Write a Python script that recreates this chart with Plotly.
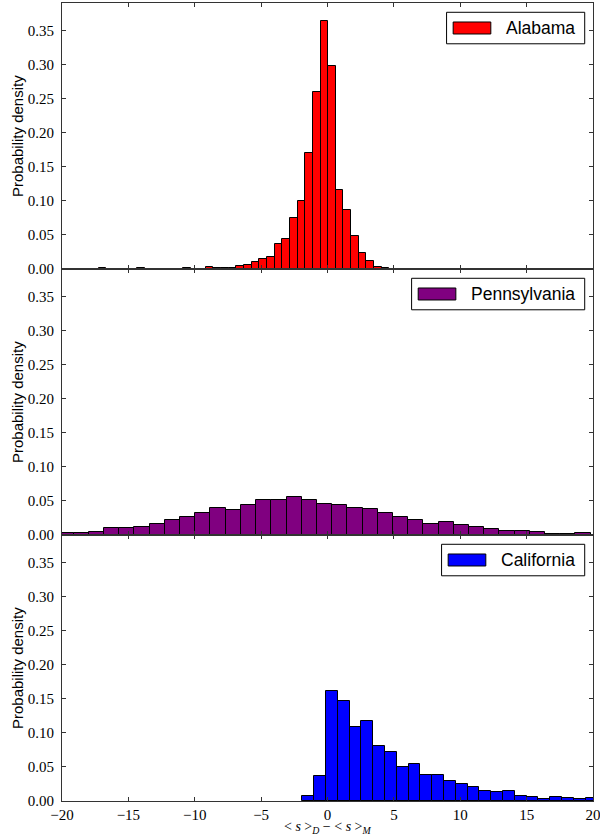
import plotly.graph_objects as go
from plotly.subplots import make_subplots

# ---------------- data ----------------
states = ["Alabama", "Pennsylvania", "California"]
colors = ["#ff0000", "#800080", "#0000ff"]

alabama_bin_start = -17.23
alabama_bin_width = 0.576
alabama_density = [
    0.001, 0, 0, 0, 0, 0.001, 0, 0, 0, 0, 0, 0.001, 0, 0,
    0.003, 0.002, 0.002, 0.002, 0.0044, 0.006, 0.0103, 0.0147, 0.0176,
    0.0368, 0.044, 0.075, 0.100, 0.170, 0.260, 0.364, 0.298, 0.116,
    0.086, 0.0485, 0.023, 0.0123, 0.0025, 0.001,
]

penn_bin_start = -20.27
penn_bin_width = 1.1455
penn_density = [
    0.0034, 0.0034, 0.005, 0.0107, 0.0107, 0.0124, 0.0165, 0.0225, 0.0266,
    0.0324, 0.0392, 0.0365, 0.0446, 0.0518, 0.0518, 0.0562, 0.0518, 0.0457,
    0.0446, 0.0402, 0.0382, 0.0328, 0.0258, 0.0227, 0.0167, 0.0197, 0.0141,
    0.0121, 0.0091, 0.0066, 0.0066, 0.005, 0.002, 0.002, 0.0035,
]

cal_bin_start = -1.89
cal_bin_width = 0.889
cal_density = [
    0.0069, 0.036, 0.161, 0.147, 0.109, 0.118, 0.081, 0.072, 0.050, 0.054,
    0.0375, 0.038, 0.0296, 0.0246, 0.020, 0.0153, 0.0138, 0.0153, 0.0079,
    0.0064, 0.0025, 0.0064, 0.0039, 0.0025, 0.0039,
]

x_ticks = [-20, -15, -10, -5, 0, 5, 10, 15, 20]
y_ticks = [0.0, 0.05, 0.10, 0.15, 0.20, 0.25, 0.30, 0.35]
y_label = "Probability density"
x_label = "&lt; <i>s</i> &gt;<sub><i>D</i></sub> \u2212 &lt; <i>s</i> &gt;<sub><i>M</i></sub>"

hists = [
    (alabama_bin_start, alabama_bin_width, alabama_density),
    (penn_bin_start, penn_bin_width, penn_density),
    (cal_bin_start, cal_bin_width, cal_density),
]

# ---------------- figure ----------------
W, H = 600, 838
ML, MR, MT, MB = 61.7, 6.7, 2.7, 37
plot_w = W - ML - MR
plot_h = H - MT - MB
panel_h = plot_h / 3

fig = make_subplots(rows=3, cols=1, shared_xaxes=True, vertical_spacing=0)

for i, (start, width, dens) in enumerate(hists):
    centers = [start + width * (k + 0.5) for k in range(len(dens))]
    fig.add_trace(
        go.Bar(
            x=centers,
            y=dens,
            width=[width] * len(dens),
            marker=dict(color=colors[i], line=dict(color="black", width=1)),
            name=states[i],
            showlegend=False,
        ),
        row=i + 1,
        col=1,
    )

axis_col = "#333333"
serif = "Liberation Serif"
sans = "Liberation Sans"

common = dict(
    showline=True,
    linecolor=axis_col,
    linewidth=1,
    mirror="allticks",
    ticks="inside",
    ticklen=4,
    tickwidth=1,
    tickcolor=axis_col,
    showgrid=False,
    zeroline=False,
    automargin=False,
    ticklabeloverflow="allow",
    tickfont=dict(family=serif, size=15, color="black"),
)

for r in range(1, 4):
    fig.update_xaxes(
        range=[-20, 20],
        tickvals=x_ticks,
        ticklabelstandoff=0,
        row=r,
        col=1,
        **common,
    )
    fig.update_yaxes(
        range=[0, 0.39],
        tickvals=y_ticks,
        tickformat=".2f",
        ticklabelstandoff=4,
        row=r,
        col=1,
        **common,
    )

# ---------------- legends (boxes drawn as shapes) and titles ----------------
def dx(px):
    return (px - ML) / plot_w

def dy(off):
    return 1 - off / panel_h

box_lefts = [446.7, 411.7, 441.7]
box_right = 585.0
shapes = []
annotations = []
for i, name in enumerate(states):
    xr = "x domain" if i == 0 else f"x{i + 1} domain"
    yr = "y domain" if i == 0 else f"y{i + 1} domain"
    bl = box_lefts[i]
    shapes.append(dict(type="rect", xref=xr, yref=yr,
                       x0=dx(bl), x1=dx(box_right), y0=dy(40.8), y1=dy(9.3),
                       fillcolor="white", line=dict(color="black", width=1), layer="above"))
    sl = bl + 6.6
    sr = sl + 37.7
    shapes.append(dict(type="rect", xref=xr, yref=yr,
                       x0=dx(sl), x1=dx(sr), y0=dy(31.0), y1=dy(19.0),
                       fillcolor=colors[i], line=dict(color="black", width=1), layer="above"))
    annotations.append(dict(xref=xr, yref=yr, x=dx(sr + 13), y=dy(25.0),
                            xanchor="left", yanchor="middle", showarrow=False,
                            text=name, font=dict(family=sans, size=17.5, color="black")))
    # y axis title for this panel
    annotations.append(dict(xref="paper", yref=yr, x=dx(16.7), y=0.5,
                            xanchor="center", yanchor="middle", showarrow=False,
                            textangle=-90, text=y_label,
                            font=dict(family=sans, size=15, color="black")))

# x axis title
annotations.append(dict(xref="paper", yref="paper", x=dx(327.5), y=-(837.5 - (H - MB)) / plot_h,
                        xanchor="center", yanchor="bottom", showarrow=False, borderpad=0,
                        text=x_label, font=dict(family=serif, size=14, color="black")))

fig.update_layout(
    width=W,
    height=H,
    margin=dict(l=ML, r=MR, t=MT, b=MB, pad=0),
    plot_bgcolor="white",
    paper_bgcolor="white",
    bargap=0,
    showlegend=False,
    shapes=shapes,
    annotations=annotations,
)

fig.write_html("out.html", config={"displayModeBar": False},
               post_script="document.body.style.margin='0';")
